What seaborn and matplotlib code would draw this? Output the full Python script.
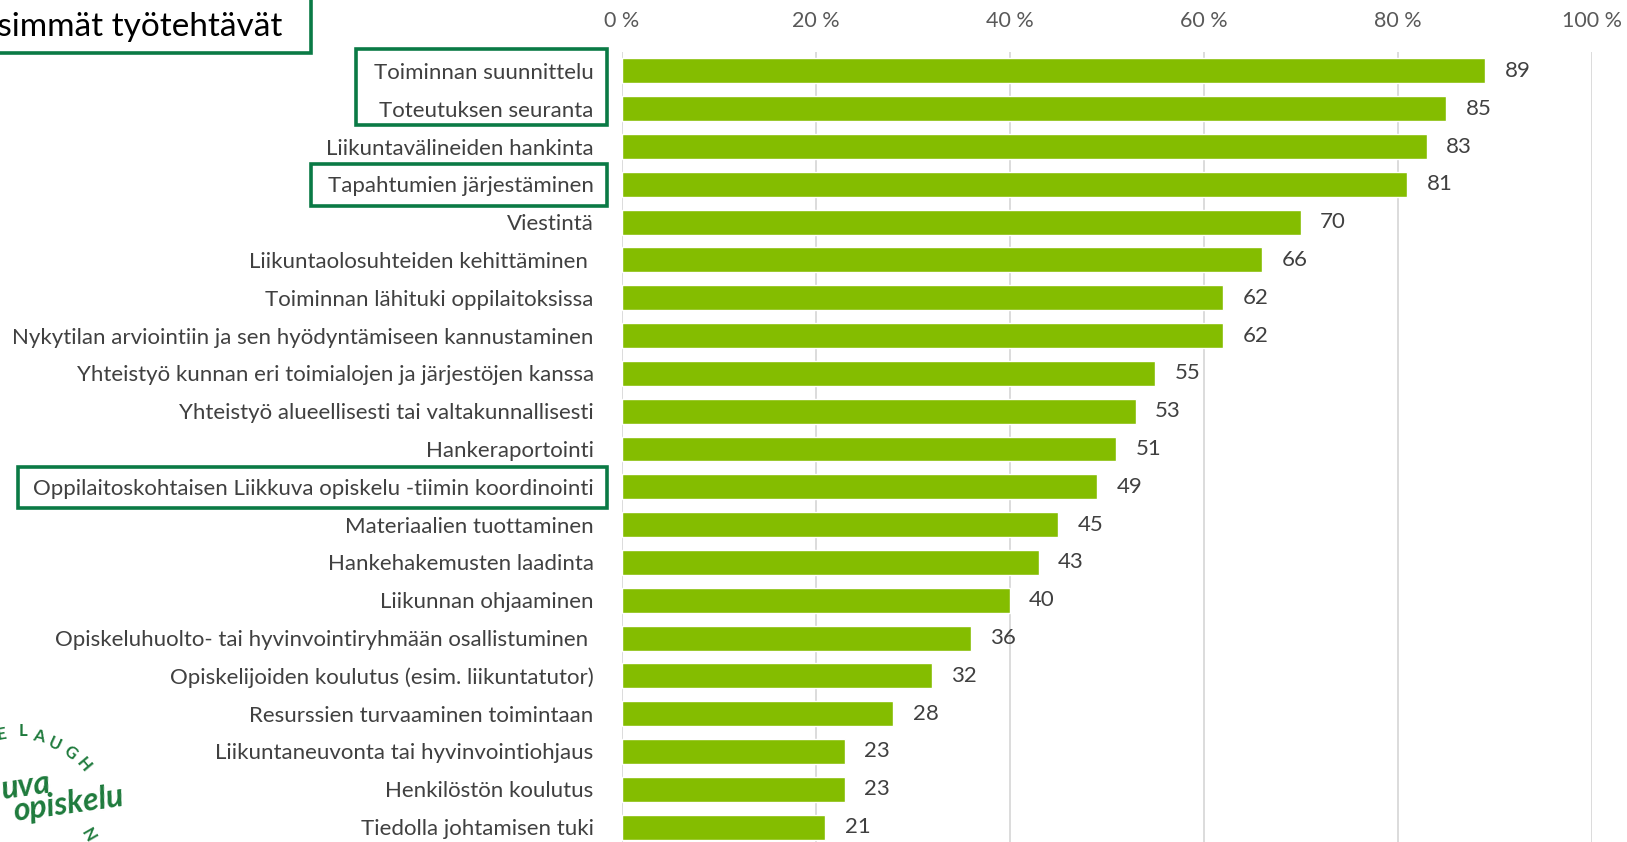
import numpy as np
import pandas as pd
import seaborn as sns
import matplotlib.pyplot as plt
from matplotlib.patches import Rectangle

tasks = [
    "Toiminnan suunnittelu",
    "Toteutuksen seuranta",
    "Liikuntavälineiden hankinta",
    "Tapahtumien järjestäminen",
    "Viestintä",
    "Liikuntaolosuhteiden kehittäminen ",
    "Toiminnan lähituki oppilaitoksissa",
    "Nykytilan arviointiin ja sen hyödyntämiseen kannustaminen",
    "Yhteistyö kunnan eri toimialojen ja järjestöjen kanssa",
    "Yhteistyö alueellisesti tai valtakunnallisesti",
    "Hankeraportointi",
    "Oppilaitoskohtaisen Liikkuva opiskelu -tiimin koordinointi",
    "Materiaalien tuottaminen",
    "Hankehakemusten laadinta",
    "Liikunnan ohjaaminen",
    "Opiskeluhuolto- tai hyvinvointiryhmään osallistuminen ",
    "Opiskelijoiden koulutus (esim. liikuntatutor)",
    "Resurssien turvaaminen toimintaan",
    "Liikuntaneuvonta tai hyvinvointiohjaus",
    "Henkilöstön koulutus",
    "Tiedolla johtamisen tuki",
]
percent = [89, 85, 83, 81, 70, 66, 62, 62, 55, 53, 51, 49, 45, 43, 40, 36, 32, 28, 23, 23, 21]
xticks = [0, 20, 40, 60, 80, 100]
title = "Yleisimmät työtehtävät"

df = pd.DataFrame({"task": tasks, "pct": percent})

sns.set_style("white")
plt.rcParams['font.family'] = ['Lato', 'DejaVu Sans']

W, H = 1627, 842
fig = plt.figure(figsize=(W / 100, H / 100), dpi=100)
ax = fig.add_axes([621.5 / W, -4 / H, 970.2 / W, 794 / H])

sns.barplot(data=df, x="pct", y="task", orient="h", color="#84bd00",
            saturation=1, width=0.66, ax=ax)

ax.set_xlim(0, 100)
ax.set_xticks(xticks)
ax.set_xticklabels([f"{t} %" for t in xticks])
ax.xaxis.tick_top()
ax.tick_params(axis="x", length=0, pad=15, labelsize=15.5, labelcolor="#595959")
ax.tick_params(axis="y", length=0, pad=20, labelsize=16, labelcolor="#404040")
ax.grid(axis="x", color="#d9d9d9", linewidth=1.3)
ax.set_axisbelow(True)
for s in ax.spines.values():
    s.set_visible(False)
ax.set_xlabel("")
ax.set_ylabel("")

ax.bar_label(ax.containers[0], fmt="%d", padding=14, fontsize=16, color="#404040")

green = "#0a7a45"
def box(x0, y0, x1, y1):
    fig.add_artist(Rectangle((x0 / W, 1 - y1 / H), (x1 - x0) / W, (y1 - y0) / H,
                             transform=fig.transFigure, fill=False,
                             edgecolor=green, linewidth=2.6, clip_on=False))

box(356, 48.8, 607, 124.5)
box(311, 164, 607, 205.5)
box(17.6, 467, 607, 508)
box(-20, -20, 311, 53)

fig.text(282 / W, 1 - 27 / H, title, ha="right", va="center", fontsize=24, color="black")

# logo fragment, bottom-left
logo = "#1e7a3c"
for ch, (lx, ly, rot) in zip("ELAUGH", [(1, 734, 10), (23, 731, 0), (39, 736, -12),
                                         (55, 744, -25), (70, 753, -38), (84, 765, -50)]):
    fig.text(lx / W, 1 - ly / H, ch, fontsize=12, fontweight="bold", color=logo,
             rotation=rot, ha="center", va="center")
fig.text(26 / W, 1 - 786 / H, "uva", fontsize=23, fontstyle="italic", fontweight="bold",
         color=logo, ha="center", va="center", rotation=8)
fig.text(68 / W, 1 - 804 / H, "opiskelu", fontsize=23, fontstyle="italic", fontweight="bold",
         color=logo, ha="center", va="center", rotation=8)
fig.text(88 / W, 1 - 835 / H, "N", fontsize=12, fontweight="bold", color=logo,
         rotation=-60, ha="center", va="center")

fig.savefig("out.png", dpi=100)
